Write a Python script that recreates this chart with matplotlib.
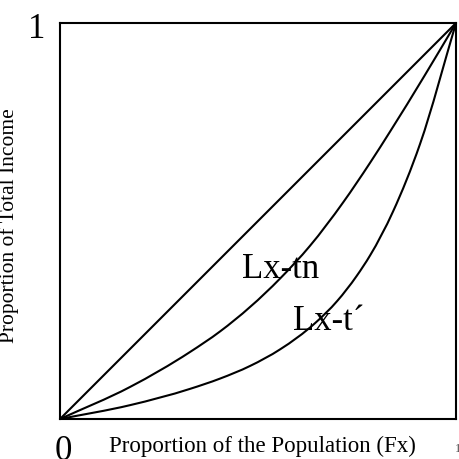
import matplotlib
matplotlib.use("Agg")
import matplotlib.pyplot as plt
from matplotlib.path import Path
from matplotlib.patches import PathPatch

# Data
equality_x = [0.0, 1.0]
equality_y = [0.0, 1.0]

lx_tn_x = [0.0, 0.177, 0.328, 0.404, 0.556, 0.631, 0.715, 0.783, 0.833, 0.92, 1.0]
lx_tn_y = [0.0, 0.081, 0.169, 0.221, 0.355, 0.437, 0.547, 0.647, 0.725, 0.866, 1.0]

lx_t_x = [0.0, 0.177, 0.328, 0.404, 0.480, 0.556, 0.644, 0.700, 0.749, 0.783, 0.841, 0.909, 1.0]
lx_t_y = [0.0, 0.035, 0.076, 0.102, 0.134, 0.176, 0.242, 0.298, 0.361, 0.413, 0.524, 0.694, 1.0]

curve_labels = ["Lx-tn", "Lx-t\u00b4"]


def smooth_path(xs, ys):
    """Cubic Bezier path through the points, tangents from weighted secants."""
    n = len(xs)
    h = [xs[i + 1] - xs[i] for i in range(n - 1)]
    s = [(ys[i + 1] - ys[i]) / h[i] for i in range(n - 1)]
    m = [s[0]]
    for i in range(1, n - 1):
        m.append((h[i - 1] * s[i] + h[i] * s[i - 1]) / (h[i - 1] + h[i]))
    m.append(s[-1])
    verts = [(xs[0], ys[0])]
    codes = [Path.MOVETO]
    for i in range(n - 1):
        d = h[i] / 3.0
        verts += [(xs[i] + d, ys[i] + m[i] * d),
                  (xs[i + 1] - d, ys[i + 1] - m[i + 1] * d),
                  (xs[i + 1], ys[i + 1])]
        codes += [Path.CURVE4] * 3
    return Path(verts, codes)


W = H = 459
fig = plt.figure(figsize=(4.59, 4.59), dpi=100)
serif = ["Liberation Serif", "DejaVu Serif"]

ax = fig.add_axes([60 / W, (H - 419) / H, 396 / W, 396 / H])
ax.set_xlim(0, 1)
ax.set_ylim(0, 1)
ax.set_xticks([])
ax.set_yticks([])
for sp in ax.spines.values():
    sp.set_linewidth(1.5)
    sp.set_color("black")

lw = 1.5
ax.plot(equality_x, equality_y, color="black", lw=lw)
for xs, ys in [(lx_tn_x, lx_tn_y), (lx_t_x, lx_t_y)]:
    ax.add_patch(PathPatch(smooth_path(xs, ys), facecolor="none",
                           edgecolor="black", lw=lw))

ax.text(0.46, 0.356, curve_labels[0], fontsize=25, family=serif, va="baseline", ha="left")
ax.text(0.588, 0.225, curve_labels[1], fontsize=25, family=serif, va="baseline", ha="left")

fig.text(37 / W, 1 - 29 / H, "1", fontsize=25, family=serif, ha="center", va="center")
fig.text(63 / W, 1 - 452 / H, "0", fontsize=25, family=serif, ha="center", va="center")
fig.text(262 / W, 1 - 452 / H, "Proportion of the Population (Fx)", fontsize=16.5,
         family=serif, ha="center", va="baseline")
fig.text(9 / W, 1 - 226 / H, "Proportion of Total Income", fontsize=15.5,
         family=serif, ha="center", va="center", rotation=90)
fig.text(455 / W, 1 - 452 / H, "1", fontsize=9, family=serif, ha="left", va="baseline", color="0.3")

fig.savefig("out.png", dpi=100)
